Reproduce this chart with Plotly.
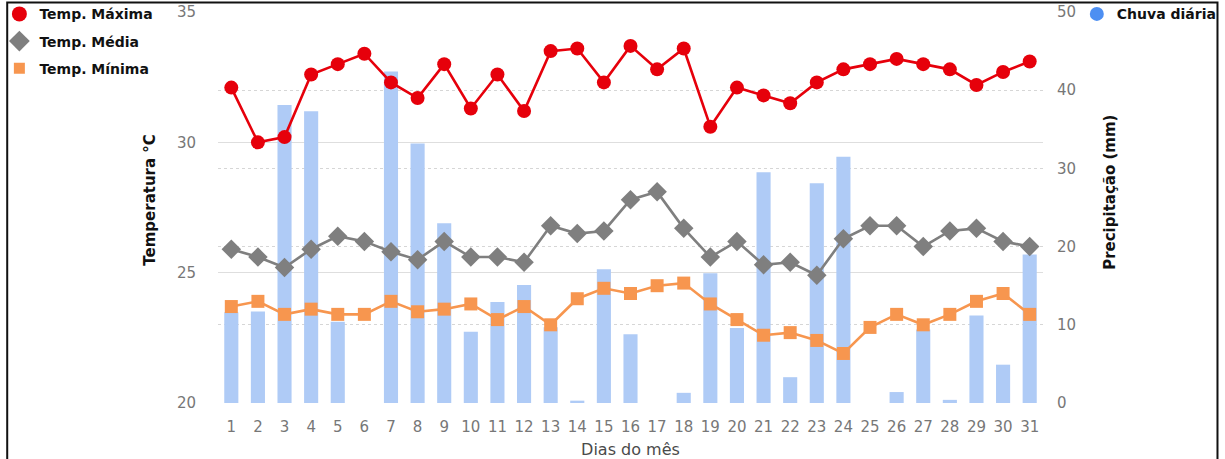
import plotly.graph_objects as go

# Daily observations for the month
dias = list(range(1, 32))

temp_maxima = [32.1, 30.0, 30.2, 32.6, 33.0, 33.4, 32.3, 31.7, 33.0, 31.3,
               32.6, 31.2, 33.5, 33.6, 32.3, 33.7, 32.8, 33.6, 30.6, 32.1,
               31.8, 31.5, 32.3, 32.8, 33.0, 33.2, 33.0, 32.8, 32.2, 32.7, 33.1]

temp_media = [25.9, 25.6, 25.2, 25.9, 26.4, 26.2, 25.8, 25.5, 26.2, 25.6,
              25.6, 25.4, 26.8, 26.5, 26.6, 27.8, 28.1, 26.7, 25.6, 26.2,
              25.3, 25.4, 24.9, 26.3, 26.8, 26.8, 26.0, 26.6, 26.7, 26.2, 26.0]

temp_minima = [23.7, 23.9, 23.4, 23.6, 23.4, 23.4, 23.9, 23.5, 23.6, 23.8,
               23.2, 23.7, 23.0, 24.0, 24.4, 24.2, 24.5, 24.6, 23.8, 23.2,
               22.6, 22.7, 22.4, 21.9, 22.9, 23.4, 23.0, 23.4, 23.9, 24.2, 23.4]

chuva_diaria = [11.6, 11.7, 38.1, 37.3, 10.4, 0.0, 42.4, 33.2, 23.0, 9.1,
                12.9, 15.1, 9.7, 0.3, 17.1, 8.8, 0.0, 1.3, 16.6, 9.6,
                29.5, 3.3, 28.1, 31.5, 0.0, 1.4, 9.4, 0.4, 11.2, 4.9, 19.0]

FONT = "DejaVu Sans, Liberation Sans, sans-serif"
RED = "#e6000b"
GRAY = "#7f7f7f"
ORANGE = "#f7964f"
BAR_BLUE = "#afcbf6"
LEGEND_BLUE = "#4d8ff2"

fig = go.Figure()

# Rain bars on the base (right-hand) axis so the lines render above them
fig.add_trace(go.Bar(
    x=dias, y=chuva_diaria, yaxis="y", width=0.53,
    marker=dict(color=BAR_BLUE, line=dict(width=0)),
    showlegend=False, hoverinfo="x+y",
))

series = [
    ("Temp. Máxima", temp_maxima, RED, "circle", 14),
    ("Temp. Média", temp_media, GRAY, "diamond", 15),
    ("Temp. Mínima", temp_minima, ORANGE, "square", 13),
]
for name, vals, color, symbol, size in series:
    fig.add_trace(go.Scatter(
        x=dias, y=vals, yaxis="y2", mode="lines+markers", name=name,
        line=dict(color=color, width=2.6),
        marker=dict(color=color, symbol=symbol, size=size),
        showlegend=False,
    ))

# Marker-only legend entries
legend_items = [
    ("Temp. Máxima", RED, "circle", 15, "legend"),
    ("Temp. Média", GRAY, "diamond", 16, "legend"),
    ("Temp. Mínima", ORANGE, "square", 11, "legend"),
    ("Chuva diária", LEGEND_BLUE, "circle", 14, "legend2"),
]
for name, color, symbol, size, leg in legend_items:
    fig.add_trace(go.Scatter(
        x=[None], y=[None], mode="markers", name=name, legend=leg,
        marker=dict(color=color, symbol=symbol, size=size),
        legendgroup=name, yaxis="y2",
    ))

tick_font = dict(family=FONT, size=15, color="#777777")
title_font = dict(family=FONT, size=15, color="#111111", weight="bold")
legend_font = dict(family=FONT, size=14, color="#111111", weight="bold")

fig.update_layout(
    width=1225, height=459,
    margin=dict(l=218, r=182, t=12, b=56, autoexpand=False),
    paper_bgcolor="white", plot_bgcolor="white",
    font=dict(family=FONT),
    xaxis=dict(
        range=[0.5, 31.5], tickmode="array", tickvals=dias,
        ticktext=[str(d) for d in dias], showgrid=False, zeroline=False,
        showline=False, ticks="outside", ticklen=10, tickcolor="rgba(0,0,0,0)",
        tickfont=tick_font, automargin=False,
        title=dict(text="Dias do mês", font=dict(family=FONT, size=16, color="#4a4a4a"),
                   standoff=10),
    ),
    yaxis=dict(
        side="right", range=[0, 50], tickvals=[0, 10, 20, 30, 40, 50],
        showgrid=True, gridcolor="#d6d6d6", griddash="dot", gridwidth=1,
        zeroline=False, showline=False, ticks="outside", ticklen=10,
        tickcolor="rgba(0,0,0,0)", tickfont=tick_font, automargin=False,
    ),
    yaxis2=dict(
        overlaying="y", side="left", range=[20, 35], tickvals=[20, 25, 30, 35],
        showgrid=True, gridcolor="#dedede", gridwidth=1, zeroline=False,
        showline=False, ticks="outside", ticklen=18, tickcolor="rgba(0,0,0,0)",
        tickfont=tick_font, automargin=False,
    ),
    legend=dict(
        x=-0.265, y=1.035, xanchor="left", yanchor="top",
        font=legend_font, bgcolor="rgba(0,0,0,0)", itemsizing="trace",
        tracegroupgap=6, traceorder="grouped",
    ),
    legend2=dict(
        x=1.041, y=1.035, xanchor="left", yanchor="top",
        font=legend_font, bgcolor="rgba(0,0,0,0)", itemsizing="trace",
    ),
)

# Vertical axis titles
fig.add_annotation(
    text="Temperatura °C", textangle=-90, font=title_font, showarrow=False,
    xref="paper", yref="paper", x=-0.0824, y=0.52, xanchor="center", yanchor="middle",
)
fig.add_annotation(
    text="Precipitação (mm)", textangle=-90, font=title_font, showarrow=False,
    xref="paper", yref="paper", x=1.0812, y=0.540, xanchor="center", yanchor="middle",
)

# Frame around the whole figure
fig.add_shape(
    type="rect", xref="paper", yref="paper",
    x0=-0.2555, x1=1.2115, y0=-0.2, y1=1.0245,
    line=dict(color="#111111", width=2), fillcolor="rgba(0,0,0,0)",
    layer="above",
)

fig.write_html("out.html")
